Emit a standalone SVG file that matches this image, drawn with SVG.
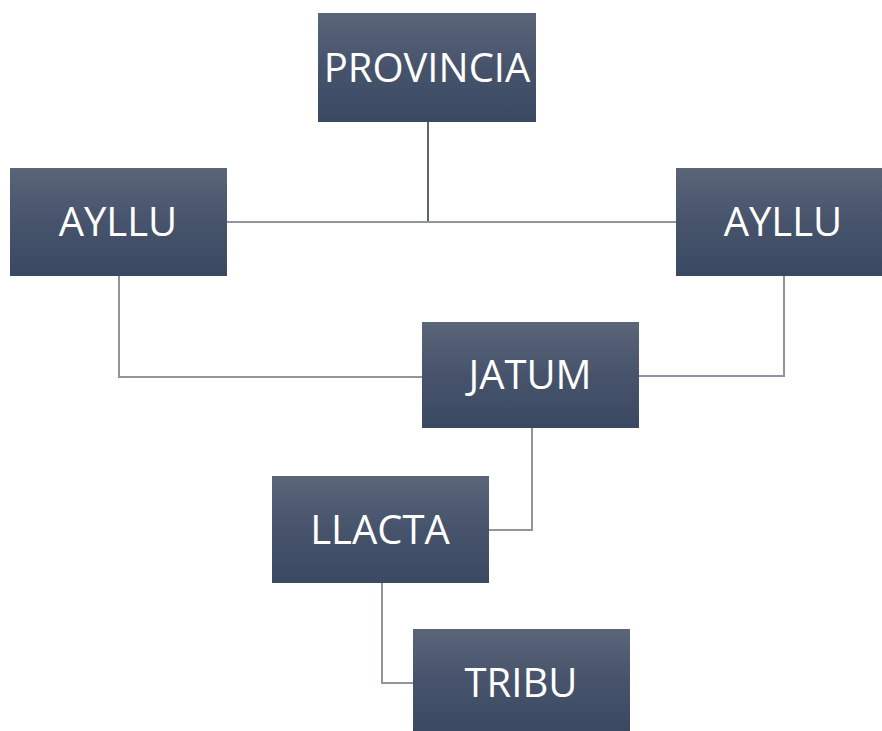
<svg xmlns="http://www.w3.org/2000/svg" width="882" height="731" viewBox="0 0 882 731">
<defs>
<linearGradient id="g" x1="0" y1="0" x2="0" y2="1">
<stop offset="0" stop-color="#5b6579"/>
<stop offset="0.5" stop-color="#46536b"/>
<stop offset="1" stop-color="#3a4962"/>
</linearGradient>
</defs>
<style>
.box{fill:url(#g);}
.lbl{fill:#ffffff;font-family:"Open Sans","Liberation Sans",sans-serif;font-size:40px;text-anchor:middle;}
.c{fill:none;stroke:#8e959e;stroke-width:2;}
.d{fill:none;stroke:#5d646c;stroke-width:2;}
</style>
<rect width="882" height="731" fill="#ffffff"/>
<g id="connectors">
<path class="d" d="M428 122 V222"/>
<path class="c" d="M227 222 H676"/>
<path class="c" d="M119 276 V377 H422"/>
<path class="c" d="M784 276 V376 H639"/>
<path class="c" d="M532 428 V530 H489"/>
<path class="c" d="M382 583 V683 H413"/>
</g>
<g id="provincia"><rect class="box" x="318" y="13" width="218" height="109"/><text class="lbl" x="427" y="82">PROVINCIA</text></g>
<g id="ayllu-left"><rect class="box" x="10" y="168" width="217" height="108"/><text class="lbl" x="118" y="236">AYLLU</text></g>
<g id="ayllu-right"><rect class="box" x="676" y="168" width="206" height="108"/><text class="lbl" x="783" y="236">AYLLU</text></g>
<g id="jatum"><rect class="box" x="422" y="322" width="217" height="106"/><text class="lbl" x="530" y="389">JATUM</text></g>
<g id="llacta"><rect class="box" x="272" y="476" width="217" height="107"/><text class="lbl" x="380" y="544">LLACTA</text></g>
<g id="tribu"><rect class="box" x="413" y="629" width="217" height="102"/><text class="lbl" x="521" y="697">TRIBU</text></g>
</svg>
